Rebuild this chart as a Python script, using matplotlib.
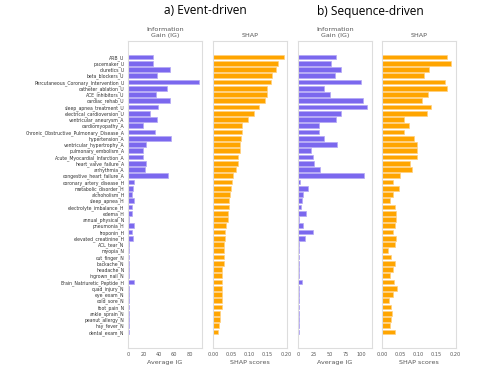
import matplotlib
matplotlib.use("Agg")
import matplotlib.pyplot as plt
import numpy as np

features = [
    "ARB_U", "pacemaker_U", "diuretics_U", "beta_blockers_U",
    "Percutaneous_Coronary_Intervention_U", "catheter_ablation_U", "ACE_inhibitors_U",
    "cardiac_rehab_U", "sleep_apnea_treatment_U", "electrical_cardioversion_U",
    "ventricular_aneurysm_A", "cardiomyopathy_A", "Chronic_Obstructive_Pulmonary_Disease_A",
    "hypertension_A", "ventricular_hypertrophy_A", "pulmonary_embolism_A",
    "Acute_Myocardial_Infarction_A", "heart_valve_failure_A", "arrhythmia_A",
    "congestive_heart_failure_A", "coronary_artery_disease_H", "metabolic_disorder_H",
    "alchoholism_H", "sleep_apnea_H", "electrolyte_imbalance_H", "edema_H",
    "annual_physical_N", "pneumonia_H", "troponin_H", "elevated_creatinine_H",
    "ACL_tear_N", "myopia_N", "cut_finger_N", "backache_N", "headache_N",
    "ingrown_nail_N", "Brain_Natriuretic_Peptide_H", "quad_injury_N", "eye_exam_N",
    "cold_sore_N", "foot_pain_N", "ankle_sprain_N", "peanut_allergy_N",
    "hay_fever_N", "dental_exam_N",
]

ig_event = [33, 33, 54.6, 37.8, 91.6, 51, 36, 54.6, 38.7, 28.8,
            37.4, 19.8, 34.4, 56.3, 24, 19.4, 19.4, 24, 21.9, 52,
            8.2, 6.9, 5.6, 7.7, 5.2, 5.2, 1.7, 7.7, 5.2, 6,
            1.7, 1.7, 1.5, 1.3, 1.3, 1.3, 7.7, 1.3, 1.5, 1.5,
            1.5, 1.5, 1.5, 1.5, 1.5]

shap_event = [0.195, 0.178, 0.174, 0.163, 0.160, 0.149, 0.147, 0.142, 0.126, 0.112,
              0.097, 0.080, 0.079, 0.076, 0.074, 0.073, 0.068, 0.068, 0.062, 0.056,
              0.053, 0.050, 0.047, 0.045, 0.045, 0.042, 0.042, 0.036, 0.034, 0.033,
              0.029, 0.029, 0.029, 0.029, 0.026, 0.026, 0.026, 0.025, 0.025, 0.024,
              0.024, 0.019, 0.019, 0.0155, 0.013]

ig_seq = [59.8, 52.4, 67.7, 58.2, 100, 40.7, 50.8, 103.2, 110, 68.8,
          59.8, 33.3, 32.8, 40.7, 61.4, 20.1, 23.3, 25.4, 35.4, 104.8,
          3.7, 16.4, 7.4, 6.3, 5.3, 13.2, 2, 8.5, 24.3, 11.6,
          2, 2, 1, 2, 2, 1, 6.3, 1.5, 1.5, 1.5,
          1.5, 1.5, 1.5, 1.5, 2]

shap_seq = [0.179, 0.190, 0.129, 0.114, 0.173, 0.178, 0.126, 0.109, 0.134, 0.123,
            0.059, 0.073, 0.061, 0.088, 0.097, 0.097, 0.096, 0.078, 0.083, 0.050,
            0.030, 0.047, 0.030, 0.021, 0.035, 0.038, 0.038, 0.037, 0.030, 0.039,
            0.037, 0.016, 0.024, 0.036, 0.029, 0.021, 0.033, 0.041, 0.030, 0.020,
            0.025, 0.027, 0.026, 0.022, 0.035]

ig_ticks = [0, 20, 40, 60, 80]
ig_seq_ticks = [0, 25, 50, 75, 100]
shap_ticks = [0.00, 0.05, 0.10, 0.15, 0.20]

PURPLE = "#7b68ee"
PURPLE_EDGE = "#b4a8f5"
ORANGE = "#ffa500"
ORANGE_EDGE = "#ffd080"

fig = plt.figure(figsize=(4.79, 3.70), dpi=100)

bottom = 1 - 348 / 370
top = 1 - 41 / 370
H = top - bottom
panels = [
    (128, 202, ig_event, PURPLE, PURPLE_EDGE, (0, 96), ig_ticks, "{:.0f}", "Average IG", "Information\nGain (IG)"),
    (213, 287, shap_event, ORANGE, ORANGE_EDGE, (0, 0.203), shap_ticks, "{:.2f}", "SHAP scores", "SHAP"),
    (298, 372, ig_seq, PURPLE, PURPLE_EDGE, (0, 117.5), ig_seq_ticks, "{:.0f}", "Average IG", "Information\nGain (IG)"),
    (382, 456, shap_seq, ORANGE, ORANGE_EDGE, (0, 0.203), shap_ticks, "{:.2f}", "SHAP scores", "SHAP"),
]

n = len(features)
ypos = np.arange(n)
axes = []
for k, (l, r, vals, col, ecol, xl, ticks, fmt, xlabel, title) in enumerate(panels):
    ax = fig.add_axes([l / 479, bottom, (r - l) / 479, H])
    ax.barh(ypos, vals, height=0.78, color=col, edgecolor=ecol, linewidth=0.5)
    ax.set_xlim(*xl)
    ax.set_ylim(n - 1 + 2.56, -2.56)
    ax.set_xticks(ticks)
    ax.set_xticklabels([fmt.format(t) for t in ticks], fontsize=3.6, color="#555555")
    ax.tick_params(axis="x", length=0, pad=3)
    if k == 0:
        ax.set_yticks(ypos)
        ax.set_yticklabels(features, fontsize=3.3, color="#333333")
        ax.tick_params(axis="y", length=0, pad=2.5)
    else:
        ax.set_yticks([])
    ax.set_xlabel(xlabel, fontsize=4.6, color="#555555", labelpad=2)
    ax.set_title(title, fontsize=4.6, color="#555555", pad=3, linespacing=1.3)
    for s in ax.spines.values():
        s.set_color("#dddddd")
        s.set_linewidth(0.8)
    axes.append(ax)

fig.text(205 / 479, 1 - 11 / 370, "a) Event-driven", ha="center", va="center",
         fontsize=8.6, family="Open Sans", color="black")
fig.text(370 / 479, 1 - 11 / 370, "b) Sequence-driven", ha="center", va="center",
         fontsize=8.6, family="Open Sans", color="black")

fig.savefig("out.png", dpi=100)
